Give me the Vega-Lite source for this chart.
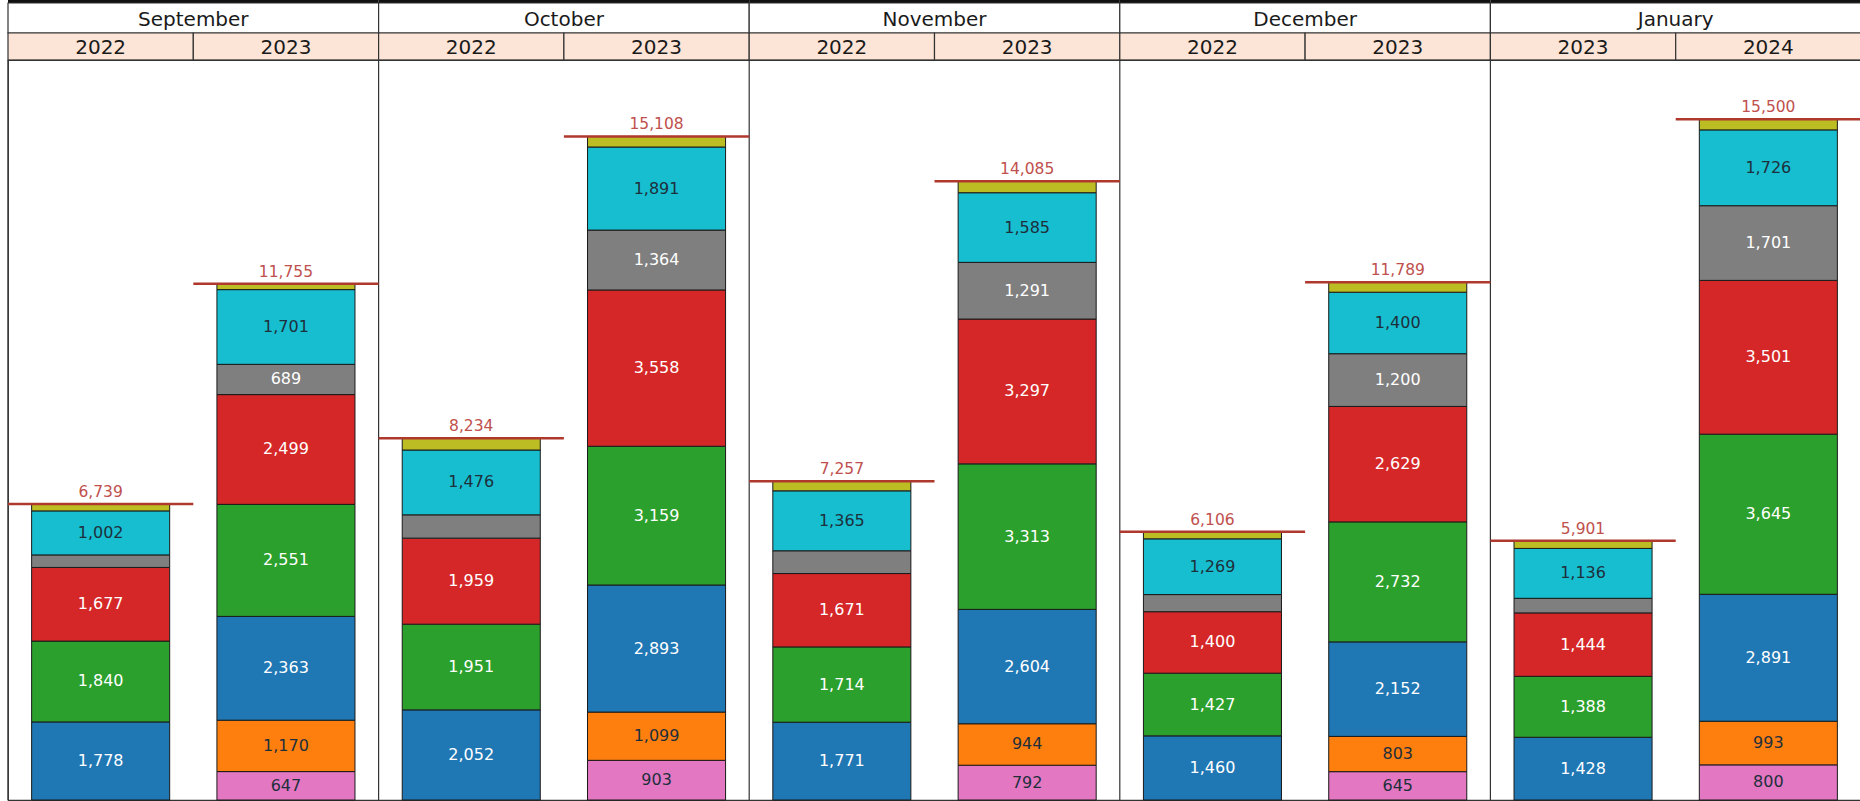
{
  "$schema": "https://vega.github.io/schema/vega-lite/v6.json",
  "padding": {"left": 6, "top": 0, "right": 0, "bottom": 0},
  "spacing": 0,
  "bounds": "flush",
  "background": "white",
  "config": {"view": {"stroke": null}, "concat": {"spacing": 0}},
  "resolve": {"scale": {"x": "independent", "y": "independent"}},
  "datasets": {
    "months": [
      {"month": "September", "first": "Sep 2022"},
      {"month": "October", "first": "Oct 2022"},
      {"month": "November", "first": "Nov 2022"},
      {"month": "December", "first": "Dec 2022"},
      {"month": "January", "first": "Jan 2023"}
    ],
    "seg": [
      {"month": "September", "year": "2022", "key": "Sep 2022", "cat": "S3", "value": 1778},
      {"month": "September", "year": "2022", "key": "Sep 2022", "cat": "S4", "value": 1840},
      {"month": "September", "year": "2022", "key": "Sep 2022", "cat": "S5", "value": 1677},
      {"month": "September", "year": "2022", "key": "Sep 2022", "cat": "S6", "value": 285},
      {"month": "September", "year": "2022", "key": "Sep 2022", "cat": "S7", "value": 1002},
      {"month": "September", "year": "2022", "key": "Sep 2022", "cat": "S8", "value": 157},
      {"month": "September", "year": "2023", "key": "Sep 2023", "cat": "S1", "value": 647},
      {"month": "September", "year": "2023", "key": "Sep 2023", "cat": "S2", "value": 1170},
      {"month": "September", "year": "2023", "key": "Sep 2023", "cat": "S3", "value": 2363},
      {"month": "September", "year": "2023", "key": "Sep 2023", "cat": "S4", "value": 2551},
      {"month": "September", "year": "2023", "key": "Sep 2023", "cat": "S5", "value": 2499},
      {"month": "September", "year": "2023", "key": "Sep 2023", "cat": "S6", "value": 689},
      {"month": "September", "year": "2023", "key": "Sep 2023", "cat": "S7", "value": 1701},
      {"month": "September", "year": "2023", "key": "Sep 2023", "cat": "S8", "value": 135},
      {"month": "October", "year": "2022", "key": "Oct 2022", "cat": "S3", "value": 2052},
      {"month": "October", "year": "2022", "key": "Oct 2022", "cat": "S4", "value": 1951},
      {"month": "October", "year": "2022", "key": "Oct 2022", "cat": "S5", "value": 1959},
      {"month": "October", "year": "2022", "key": "Oct 2022", "cat": "S6", "value": 530},
      {"month": "October", "year": "2022", "key": "Oct 2022", "cat": "S7", "value": 1476},
      {"month": "October", "year": "2022", "key": "Oct 2022", "cat": "S8", "value": 266},
      {"month": "October", "year": "2023", "key": "Oct 2023", "cat": "S1", "value": 903},
      {"month": "October", "year": "2023", "key": "Oct 2023", "cat": "S2", "value": 1099},
      {"month": "October", "year": "2023", "key": "Oct 2023", "cat": "S3", "value": 2893},
      {"month": "October", "year": "2023", "key": "Oct 2023", "cat": "S4", "value": 3159},
      {"month": "October", "year": "2023", "key": "Oct 2023", "cat": "S5", "value": 3558},
      {"month": "October", "year": "2023", "key": "Oct 2023", "cat": "S6", "value": 1364},
      {"month": "October", "year": "2023", "key": "Oct 2023", "cat": "S7", "value": 1891},
      {"month": "October", "year": "2023", "key": "Oct 2023", "cat": "S8", "value": 241},
      {"month": "November", "year": "2022", "key": "Nov 2022", "cat": "S3", "value": 1771},
      {"month": "November", "year": "2022", "key": "Nov 2022", "cat": "S4", "value": 1714},
      {"month": "November", "year": "2022", "key": "Nov 2022", "cat": "S5", "value": 1671},
      {"month": "November", "year": "2022", "key": "Nov 2022", "cat": "S6", "value": 518},
      {"month": "November", "year": "2022", "key": "Nov 2022", "cat": "S7", "value": 1365},
      {"month": "November", "year": "2022", "key": "Nov 2022", "cat": "S8", "value": 218},
      {"month": "November", "year": "2023", "key": "Nov 2023", "cat": "S1", "value": 792},
      {"month": "November", "year": "2023", "key": "Nov 2023", "cat": "S2", "value": 944},
      {"month": "November", "year": "2023", "key": "Nov 2023", "cat": "S3", "value": 2604},
      {"month": "November", "year": "2023", "key": "Nov 2023", "cat": "S4", "value": 3313},
      {"month": "November", "year": "2023", "key": "Nov 2023", "cat": "S5", "value": 3297},
      {"month": "November", "year": "2023", "key": "Nov 2023", "cat": "S6", "value": 1291},
      {"month": "November", "year": "2023", "key": "Nov 2023", "cat": "S7", "value": 1585},
      {"month": "November", "year": "2023", "key": "Nov 2023", "cat": "S8", "value": 259},
      {"month": "December", "year": "2022", "key": "Dec 2022", "cat": "S3", "value": 1460},
      {"month": "December", "year": "2022", "key": "Dec 2022", "cat": "S4", "value": 1427},
      {"month": "December", "year": "2022", "key": "Dec 2022", "cat": "S5", "value": 1400},
      {"month": "December", "year": "2022", "key": "Dec 2022", "cat": "S6", "value": 390},
      {"month": "December", "year": "2022", "key": "Dec 2022", "cat": "S7", "value": 1269},
      {"month": "December", "year": "2022", "key": "Dec 2022", "cat": "S8", "value": 160},
      {"month": "December", "year": "2023", "key": "Dec 2023", "cat": "S1", "value": 645},
      {"month": "December", "year": "2023", "key": "Dec 2023", "cat": "S2", "value": 803},
      {"month": "December", "year": "2023", "key": "Dec 2023", "cat": "S3", "value": 2152},
      {"month": "December", "year": "2023", "key": "Dec 2023", "cat": "S4", "value": 2732},
      {"month": "December", "year": "2023", "key": "Dec 2023", "cat": "S5", "value": 2629},
      {"month": "December", "year": "2023", "key": "Dec 2023", "cat": "S6", "value": 1200},
      {"month": "December", "year": "2023", "key": "Dec 2023", "cat": "S7", "value": 1400},
      {"month": "December", "year": "2023", "key": "Dec 2023", "cat": "S8", "value": 228},
      {"month": "January", "year": "2023", "key": "Jan 2023", "cat": "S3", "value": 1428},
      {"month": "January", "year": "2023", "key": "Jan 2023", "cat": "S4", "value": 1388},
      {"month": "January", "year": "2023", "key": "Jan 2023", "cat": "S5", "value": 1444},
      {"month": "January", "year": "2023", "key": "Jan 2023", "cat": "S6", "value": 332},
      {"month": "January", "year": "2023", "key": "Jan 2023", "cat": "S7", "value": 1136},
      {"month": "January", "year": "2023", "key": "Jan 2023", "cat": "S8", "value": 173},
      {"month": "January", "year": "2024", "key": "Jan 2024", "cat": "S1", "value": 800},
      {"month": "January", "year": "2024", "key": "Jan 2024", "cat": "S2", "value": 993},
      {"month": "January", "year": "2024", "key": "Jan 2024", "cat": "S3", "value": 2891},
      {"month": "January", "year": "2024", "key": "Jan 2024", "cat": "S4", "value": 3645},
      {"month": "January", "year": "2024", "key": "Jan 2024", "cat": "S5", "value": 3501},
      {"month": "January", "year": "2024", "key": "Jan 2024", "cat": "S6", "value": 1701},
      {"month": "January", "year": "2024", "key": "Jan 2024", "cat": "S7", "value": 1726},
      {"month": "January", "year": "2024", "key": "Jan 2024", "cat": "S8", "value": 243}
    ]
  },
  "vconcat": [
    {
      "width": 1853,
      "height": 3,
      "data": {"name": "months"},
      "mark": {"type": "rect", "fill": "#111111"},
      "encoding": {
        "x": {"field": "month", "type": "nominal", "axis": null,
              "scale": {"domain": ["September", "October", "November", "December", "January"], "paddingInner": 0, "paddingOuter": 0}}
      }
    },
    {
      "width": 1853,
      "height": 30,
      "data": {"name": "months"},
      "encoding": {
        "x": {"field": "month", "type": "nominal", "axis": null,
              "scale": {"domain": ["September", "October", "November", "December", "January"], "paddingInner": 0, "paddingOuter": 0}}
      },
      "layer": [
        {"mark": {"type": "rect", "fill": "white", "stroke": "#333333", "strokeWidth": 1.2}},
        {"mark": {"type": "text", "font": "DejaVu Sans", "fontSize": 20, "color": "#1a1a1a", "dy": 2},
         "encoding": {"text": {"field": "month"}}}
      ]
    },
    {
      "width": 1853,
      "height": 27,
      "data": {"name": "seg"},
      "transform": [{"aggregate": [{"op": "count", "as": "n"}], "groupby": ["key", "year"]}],
      "encoding": {
        "x": {"field": "key", "type": "nominal", "axis": null,
              "scale": {"domain": ["Sep 2022", "Sep 2023", "Oct 2022", "Oct 2023", "Nov 2022", "Nov 2023", "Dec 2022", "Dec 2023", "Jan 2023", "Jan 2024"], "paddingInner": 0, "paddingOuter": 0}}
      },
      "layer": [
        {"mark": {"type": "rect", "fill": "#FCE4D6", "stroke": "#333333", "strokeWidth": 1.2}},
        {"mark": {"type": "text", "font": "DejaVu Sans", "fontSize": 20, "color": "#1a1a1a", "dy": 1},
         "encoding": {"text": {"field": "year"}}}
      ]
    },
    {
      "width": 1853,
      "height": 740,
      "view": {"stroke": "#333333", "strokeWidth": 1.2},
      "data": {"name": "seg"},
      "encoding": {
        "x": {"field": "key", "type": "nominal", "axis": null,
              "scale": {"domain": ["Sep 2022", "Sep 2023", "Oct 2022", "Oct 2023", "Nov 2022", "Nov 2023", "Dec 2022", "Dec 2023", "Jan 2023", "Jan 2024"], "paddingInner": 0, "paddingOuter": 0}}
      },
      "resolve": {"scale": {"y": "shared"}},
      "layer": [
        {
          "mark": {"type": "bar", "width": {"band": 0.745}, "stroke": "#1a1a1a", "strokeWidth": 1},
          "encoding": {
            "y": {"field": "value", "type": "quantitative", "stack": "zero", "axis": null,
                  "scale": {"domain": [0, 16848], "nice": false, "zero": true}},
            "color": {"field": "cat", "type": "nominal", "legend": null,
                      "scale": {"domain": ["S1", "S2", "S3", "S4", "S5", "S6", "S7", "S8"],
                                "range": ["#E377C2", "#FF7F0E", "#1F77B4", "#2CA02C", "#D62728", "#7F7F7F", "#17BECF", "#BCBD22"]}},
            "order": {"field": "cat", "sort": "ascending"}
          }
        },
        {
          "transform": [
            {"stack": "value", "groupby": ["key"], "sort": [{"field": "cat", "order": "ascending"}], "as": ["v0", "v1"]},
            {"filter": "datum.value >= 600 && datum.cat != 'S8'"},
            {"calculate": "(datum.v0 + datum.v1) / 2", "as": "mid"}
          ],
          "mark": {"type": "text", "font": "DejaVu Sans", "fontSize": 16, "baseline": "middle"},
          "encoding": {
            "y": {"field": "mid", "type": "quantitative"},
            "text": {"field": "value", "type": "quantitative", "format": ","},
            "color": {
              "condition": {"test": "indexof(['S1','S2','S7'], datum.cat) >= 0", "value": "#1E2F3C"},
              "value": "#FFFFFF"
            }
          }
        },
        {
          "data": {"name": "months"},
          "mark": {"type": "rule", "color": "#333333", "strokeWidth": 1.2},
          "encoding": {
            "x": {"field": "first", "type": "nominal", "bandPosition": 0}
          }
        },
        {
          "transform": [{"aggregate": [{"op": "sum", "field": "value", "as": "total"}], "groupby": ["key"]}],
          "layer": [
            {
              "mark": {"type": "rule", "color": "#B0392E", "strokeWidth": 2.5},
              "encoding": {
                "x": {"field": "key", "type": "nominal", "bandPosition": 0},
                "x2": {"field": "key", "bandPosition": 1},
                "y": {"field": "total", "type": "quantitative"}
              }
            },
            {
              "mark": {"type": "text", "font": "DejaVu Sans", "fontSize": 15.5, "color": "#C0504D", "baseline": "alphabetic", "dy": -7},
              "encoding": {
                "y": {"field": "total", "type": "quantitative"},
                "text": {"field": "total", "type": "quantitative", "format": ","}
              }
            }
          ]
        }
      ]
    }
  ]
}
